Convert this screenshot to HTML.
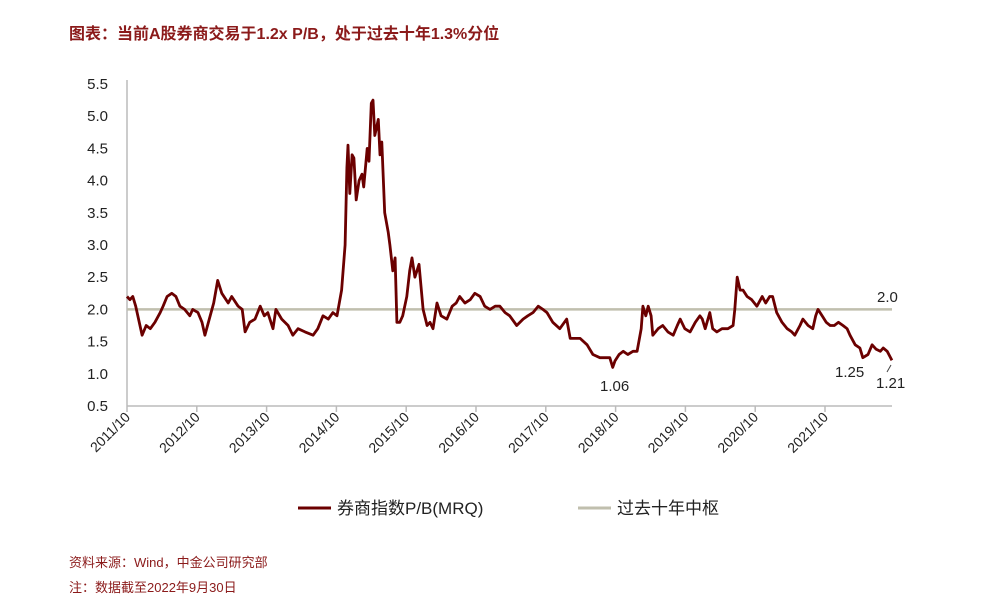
<!DOCTYPE html>
<html><head><meta charset="utf-8"><style>
body{margin:0;background:#fff;width:1002px;height:610px;overflow:hidden;font-family:"Liberation Sans","Noto Sans CJK SC",sans-serif}
</style></head><body>
<svg width="1002" height="610" id="c">
<text x="69" y="39" font-size="16" font-weight="bold" fill="#8b1a1a" font-family="Liberation Sans, Noto Sans CJK SC, sans-serif">图表：当前A股券商交易于1.2x P/B，处于过去十年1.3%分位</text>
<g id="axes"></g>
<g id="plot"></g>
<text x="877" y="302" font-size="15" fill="#222">2.0</text>
<text x="600" y="391" font-size="15" fill="#222">1.06</text>
<text x="835" y="377" font-size="15" fill="#222">1.25</text>
<text x="876" y="388" font-size="15" fill="#222">1.21</text>
<line x1="891" y1="365" x2="887" y2="372" stroke="#444" stroke-width="1"/>
<g>
<line x1="298" y1="508" x2="331" y2="508" stroke="#6b0000" stroke-width="3"/>
<text x="337" y="514" font-size="17" fill="#222">券商指数P/B(MRQ)</text>
<line x1="578" y1="508" x2="611" y2="508" stroke="#c0bfae" stroke-width="3"/>
<text x="617" y="514" font-size="17" fill="#222">过去十年中枢</text>
</g>
<text x="69" y="567" font-size="13" fill="#8b1a1a">资料来源：Wind，中金公司研究部</text>
<text x="69" y="592" font-size="13" fill="#8b1a1a">注：数据截至2022年9月30日</text>
</svg>
<script>
const months=[
0,0.5,1.0,1.5,2.6,3.3,4.0,4.8,5.7,6.2,
6.9,7.7,8.4,9.1,9.9,10.8,11.3,12.2,12.9,13.4,
14.3,14.9,15.6,16.3,17.4,18.0,19.1,19.8,20.3,21.1,
22.0,22.9,23.6,24.2,25.1,25.6,26.6,27.7,28.5,29.4,
30.6,32.0,32.8,33.7,34.6,35.4,36.1,36.9,37.5,37.8,
38.0,38.3,38.7,39.0,39.4,39.9,40.4,40.7,41.3,41.6,
42.0,42.3,42.6,43.2,43.5,43.8,44.3,44.9,45.2,45.7,
46.1,46.4,46.9,47.4,48.1,48.6,49.0,49.5,50.2,50.9,
51.6,52.1,52.6,53.3,54.0,55.0,55.9,56.6,57.2,58.1,
59.0,59.8,60.7,61.5,62.4,63.3,64.1,65.0,65.8,67.0,
68.1,68.9,69.8,70.7,71.5,72.2,73.2,74.4,75.6,76.2,
77.0,77.9,79.1,80.1,81.3,82.2,83.0,83.5,83.9,84.6,
85.3,86.1,87.0,87.7,88.4,88.7,89.2,89.6,90.1,90.4,
91.3,92.1,93.0,93.9,94.6,95.1,95.9,96.8,97.7,98.5,
98.9,99.4,100.2,100.7,101.4,102.3,103.3,104.2,104.5,104.9,
105.4,105.9,106.6,107.4,108.3,109.2,109.8,110.5,111.0,111.7,
112.6,113.5,114.3,114.8,115.7,116.2,117.1,117.9,118.4,118.8,
119.5,120.2,120.9,121.6,122.3,123.1,123.8,124.3,125.2,126.0,
126.5,127.4,128.1,128.8,129.5,130.0,130.7,131.5];
const pb=[
2.2,2.15,2.2,2.05,1.6,1.75,1.7,1.8,1.95,2.05,
2.2,2.25,2.2,2.05,2.0,1.9,2.0,1.95,1.8,1.6,
1.9,2.1,2.45,2.25,2.1,2.2,2.05,2.0,1.65,1.8,
1.85,2.05,1.9,1.95,1.7,2.0,1.85,1.75,1.6,1.7,
1.65,1.6,1.7,1.9,1.85,1.95,1.9,2.3,3.0,4.2,
4.55,3.8,4.4,4.35,3.7,4.0,4.1,3.9,4.5,4.3,
5.2,5.25,4.7,4.95,4.4,4.6,3.5,3.2,3.0,2.6,
2.8,1.8,1.8,1.9,2.2,2.6,2.8,2.5,2.7,2.0,
1.75,1.8,1.7,2.1,1.9,1.85,2.05,2.1,2.2,2.1,
2.15,2.25,2.2,2.05,2.0,2.05,2.05,1.95,1.9,1.75,
1.85,1.9,1.95,2.05,2.0,1.95,1.8,1.7,1.85,1.55,
1.55,1.55,1.45,1.3,1.25,1.25,1.25,1.1,1.2,1.3,
1.35,1.3,1.35,1.35,1.7,2.05,1.9,2.05,1.9,1.6,
1.7,1.75,1.65,1.6,1.75,1.85,1.7,1.65,1.8,1.9,
1.85,1.7,1.95,1.7,1.65,1.7,1.7,1.75,2.0,2.5,
2.3,2.3,2.2,2.15,2.05,2.2,2.1,2.2,2.2,1.95,
1.8,1.7,1.65,1.6,1.75,1.85,1.75,1.7,1.9,2.0,
1.9,1.8,1.75,1.75,1.8,1.75,1.7,1.6,1.45,1.4,
1.25,1.3,1.45,1.38,1.35,1.4,1.35,1.21];
const yTicks=[0.5,1.0,1.5,2.0,2.5,3.0,3.5,4.0,4.5,5.0,5.5];
const xTickLabels=["2011/10","2012/10","2013/10","2014/10","2015/10","2016/10","2017/10","2018/10","2019/10","2020/10","2021/10"];
const median=[2.0];
const X0=127,X1=892,Y0=406,Y1=84;
const px=t=>X0+t*(69.8/12);
const py=v=>Y0-(v-0.5)/5*(Y0-Y1);
const NS="http://www.w3.org/2000/svg";
const ax=document.getElementById('axes'),pl=document.getElementById('plot');
function mk(tag,at,parent){const e=document.createElementNS(NS,tag);for(const k in at)e.setAttribute(k,at[k]);parent.appendChild(e);return e;}
let a=mk('line',{x1:X0,y1:Y1-4,x2:X0,y2:Y0,stroke:'#bbb','stroke-width':1.5},ax);


a=mk('line',{x1:X0,y1:Y0,x2:X1,y2:Y0,stroke:'#bbb','stroke-width':1.5},ax);


yTicks.forEach(v=>{const t=mk('text',{x:108,y:py(v)+5,'text-anchor':'end','font-size':15,fill:'#222'},ax);t.textContent=v.toFixed(1);

});
xTickLabels.forEach((s,i)=>{const x=px(i*12);const l=mk('line',{x1:x,y1:Y0,x2:x,y2:Y0+6,stroke:'#bbb','stroke-width':1.5},ax);


const t=mk('text',{x:x+4,y:Y0+12,'text-anchor':'end','font-size':14,fill:'#222',transform:`rotate(-45 ${x+4} ${Y0+12})`},ax);t.textContent=s;

});
const m=mk('line',{x1:X0,y1:py(median[0]),x2:X1,y2:py(median[0]),stroke:'#c0bfae','stroke-width':2.5},pl);


const n=Math.min(months.length,pb.length);
let d='';for(let i=0;i<n;i++)d+=(i?'L':'M')+px(months[i]).toFixed(1)+','+py(pb[i]).toFixed(1);
const p=mk('path',{d:d,fill:'none',stroke:'#6b0000','stroke-width':2.8,'stroke-linejoin':'round'},pl);


</script>
</body></html>
